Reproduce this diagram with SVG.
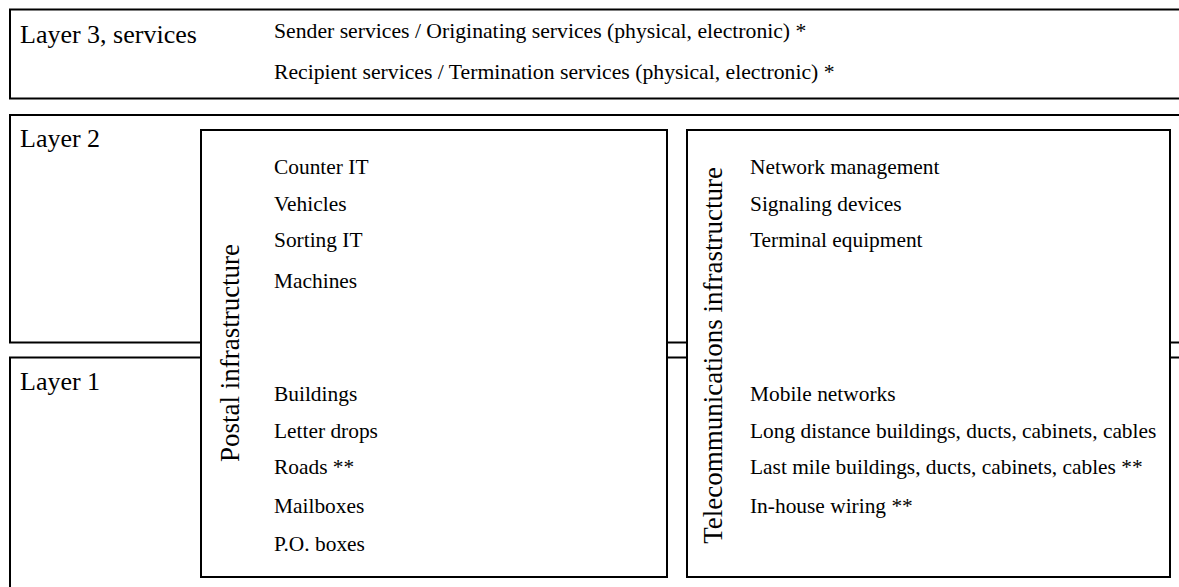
<svg xmlns="http://www.w3.org/2000/svg" width="1179" height="587" viewBox="0 0 1179 587">
<style>
.box{fill:none;stroke:#000;stroke-width:2}
.inner{fill:#fff;stroke:#000;stroke-width:2}
.lbl{font-family:"Liberation Serif","Times New Roman",serif;font-size:26px;fill:#000}
.vl{font-family:"Liberation Serif","Times New Roman",serif;font-size:27px;fill:#000}
.it{font-family:"Liberation Serif","Times New Roman",serif;font-size:21.4px;fill:#000}
.it3{font-family:"Liberation Serif","Times New Roman",serif;font-size:21.7px;fill:#000}
</style>
<rect width="1179" height="587" fill="#fff"/>
<g id="layer3">
<rect class="box" x="10" y="9.5" width="1200" height="89"/>
<text class="lbl" x="20" y="43">Layer 3, services</text>
<text class="it3" x="274" y="38">Sender services / Originating services (physical, electronic) *</text>
<text class="it3" x="274" y="79">Recipient services / Termination services (physical, electronic) *</text>
</g>
<g id="layer2">
<rect class="box" x="10" y="115" width="1200" height="227.5"/>
<text class="lbl" x="20" y="147">Layer 2</text>
</g>
<g id="layer1">
<rect class="box" x="10" y="357.5" width="1200" height="260"/>
<text class="lbl" x="20" y="390">Layer 1</text>
</g>
<g id="postal">
<rect class="inner" x="201" y="130" width="466" height="447"/>
<text class="vl" transform="translate(239,353) rotate(-90)" text-anchor="middle">Postal infrastructure</text>
<text class="it" x="274" y="174">Counter IT</text>
<text class="it" x="274" y="211">Vehicles</text>
<text class="it" x="274" y="247">Sorting IT</text>
<text class="it" x="274" y="288">Machines</text>
<text class="it" x="274" y="401">Buildings</text>
<text class="it" x="274" y="438">Letter drops</text>
<text class="it" x="274" y="474">Roads **</text>
<text class="it" x="274" y="513">Mailboxes</text>
<text class="it" x="274" y="551">P.O. boxes</text>
</g>
<g id="telecom">
<rect class="inner" x="687" y="130" width="483" height="447"/>
<text class="vl" transform="translate(722,355.5) rotate(-90)" text-anchor="middle">Telecommunications infrastructure</text>
<text class="it" x="750" y="174">Network management</text>
<text class="it" x="750" y="211">Signaling devices</text>
<text class="it" x="750" y="247">Terminal equipment</text>
<text class="it" x="750" y="401">Mobile networks</text>
<text class="it" x="750" y="438">Long distance buildings, ducts, cabinets, cables</text>
<text class="it" x="750" y="474">Last mile buildings, ducts, cabinets, cables **</text>
<text class="it" x="750" y="513">In-house wiring **</text>
</g>
</svg>
